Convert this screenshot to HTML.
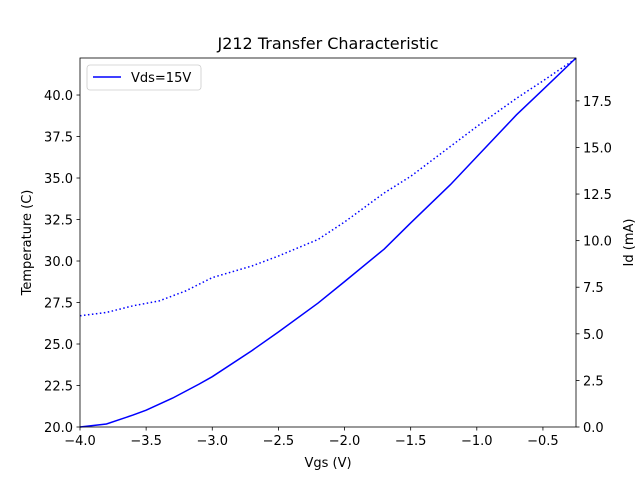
<!DOCTYPE html>
<html><head><meta charset="utf-8"><style>
body{margin:0;background:#fff;font-family:"Liberation Sans","DejaVu Sans",sans-serif;}
svg text{font-family:"DejaVu Sans","Liberation Sans",sans-serif;}
</style></head><body>
<svg id="chart" width="640" height="480" xmlns="http://www.w3.org/2000/svg"></svg>
<script>
const vgs = [-4,-3.8,-3.6,-3.5,-3.3,-3.1,-3.0,-2.7,-2.5,-2.2,-2.0,-1.7,-1.5,-1.2,-1.0,-0.7,-0.5,-0.25];
const idMa = [0,0.16,0.64,0.9,1.55,2.3,2.7,4.1,5.1,6.65,7.8,9.55,10.95,13.0,14.5,16.75,18.1,19.8];
const tempVgs = [-4,-3.8,-3.6,-3.4,-3.2,-3.0,-2.7,-2.5,-2.2,-2.0,-1.7,-1.5,-1.2,-1.0,-0.7,-0.5,-0.25];
const tempC = [26.7,26.9,27.3,27.6,28.2,29.0,29.7,30.3,31.3,32.35,34.1,35.1,36.9,38.1,39.8,40.85,42.2];
const xTicks = [-4.0,-3.5,-3.0,-2.5,-2.0,-1.5,-1.0,-0.5];
const yLeftTicks = [20.0,22.5,25.0,27.5,30.0,32.5,35.0,37.5,40.0];
const yRightTicks = [0.0,2.5,5.0,7.5,10.0,12.5,15.0,17.5];

const L=80,R=576,T=58,B=427;
const xMin=-4,xMax=-0.25,lMin=20,lMax=42.23,rMin=0,rMax=19.8;
const sx=v=>L+(v-xMin)/(xMax-xMin)*(R-L);
const sl=v=>B-(v-lMin)/(lMax-lMin)*(B-T);
const sr=v=>B-(v-rMin)/(rMax-rMin)*(B-T);
const svg=document.getElementById('chart');
const NS='http://www.w3.org/2000/svg';
function mk(tag,attrs,txt){const e=document.createElementNS(NS,tag);for(const k in attrs)e.setAttribute(k,attrs[k]);if(txt!==undefined)e.textContent=txt;svg.appendChild(e);return e;}

const tp=mk('polyline',{points:tempVgs.map((v,i)=>sx(v)+','+sl(tempC[i])).join(' '),fill:'none',stroke:'#0000ff','stroke-width':1.5,'stroke-dasharray':'1.5,2.5'});


const ip=mk('polyline',{points:vgs.map((v,i)=>sx(v)+','+sr(idMa[i])).join(' '),fill:'none',stroke:'#0000ff','stroke-width':1.5});



const fr=mk('rect',{x:L,y:T,width:R-L,height:B-T,fill:'none',stroke:'#000','stroke-width':0.8});



xTicks.forEach(v=>{const x=sx(v);mk('line',{x1:x,y1:B,x2:x,y2:B+3.5,stroke:'#000','stroke-width':0.8});
const t=mk('text',{x:x,y:B+18,'font-size':13,'text-anchor':'middle'},v.toFixed(1).replace('-','−'));

});
yLeftTicks.forEach(v=>{const y=sl(v);mk('line',{x1:L-3.5,y1:y,x2:L,y2:y,stroke:'#000','stroke-width':0.8});
const t=mk('text',{x:L-7,y:y+5,'font-size':13,'text-anchor':'end'},v.toFixed(1));

});
yRightTicks.forEach(v=>{const y=sr(v);mk('line',{x1:R,y1:y,x2:R+3.5,y2:y,stroke:'#000','stroke-width':0.8});
const t=mk('text',{x:R+7,y:y+5,'font-size':13,'text-anchor':'start'},v.toFixed(1));

});

let e;
e=mk('text',{x:(L+R)/2,y:49,'font-size':16,'text-anchor':'middle'},'J212 Transfer Characteristic');


e=mk('text',{x:(L+R)/2,y:467,'font-size':13,'text-anchor':'middle'},'Vgs (V)');


e=mk('text',{x:31,y:(T+B)/2,'font-size':13,'text-anchor':'middle',transform:'rotate(-90 31 '+(T+B)/2+')'},'Temperature (C)');


e=mk('text',{x:633,y:(T+B)/2,'font-size':13,'text-anchor':'middle',transform:'rotate(-90 633 '+(T+B)/2+')'},'Id (mA)');



e=mk('rect',{x:87,y:65,width:114,height:25,rx:3,fill:'#fff',stroke:'#ccc','stroke-width':0.8});


e=mk('line',{x1:93,y1:77,x2:121,y2:77,stroke:'#0000ff','stroke-width':1.5});


e=mk('text',{x:131,y:82,'font-size':13},'Vds=15V');


</script>
</body></html>
